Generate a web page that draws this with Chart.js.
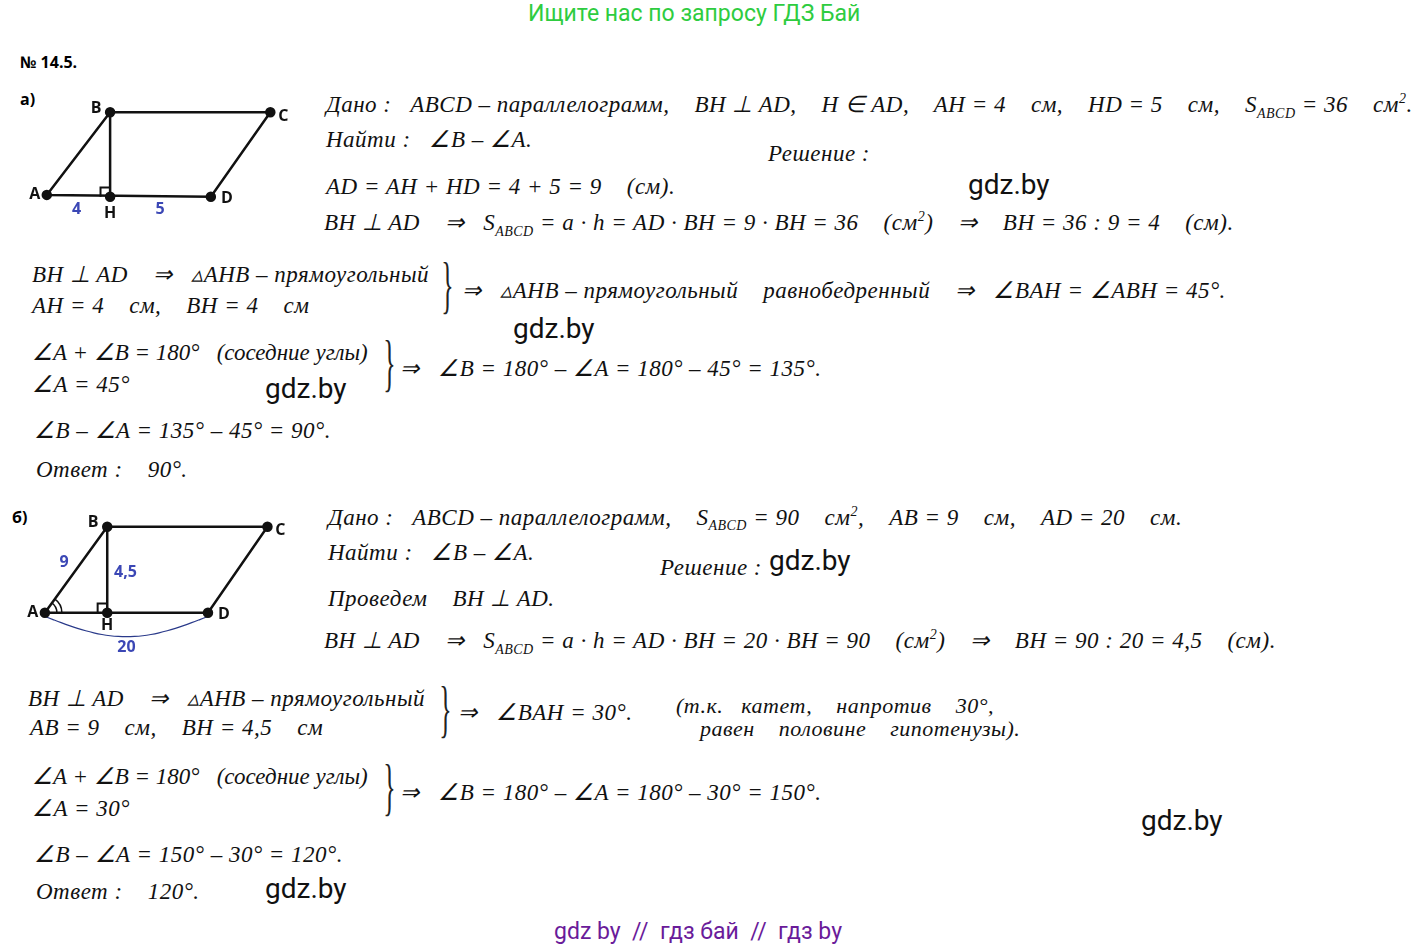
<!DOCTYPE html><html><head><meta charset="utf-8">
<script src="https://cdn.jsdelivr.net/npm/chart.js@4"></script>
<style>
body{margin:0;width:1419px;height:951px;background:#fff;position:relative;overflow:hidden;font-family:"Liberation Serif",serif}
.t{position:absolute;white-space:pre;font-style:italic;font-size:23px;letter-spacing:0.5px;color:#111}
.s{position:absolute;white-space:pre;font-family:Roboto,sans-serif;font-size:28px;color:#111}
.b{position:absolute;font-family:"Open Sans",sans-serif;font-weight:bold;font-size:16px}
sub{font-size:14px}sup{font-size:14px}
.br{position:absolute;font-style:normal;font-size:64px;color:#222;transform:scaleX(0.4);font-weight:100}
canvas{position:absolute}
</style></head><body>
<div class="s" style="left:528px;top:0;color:#2ecc40;font-size:23px">Ищите нас по запросу ГДЗ Бай</div>
<div class="b" style="left:20px;top:51px">№ 14.5.</div>
<div class="b" style="left:20px;top:88px">а)</div>
<div class="b" style="left:12px;top:506px">б)</div>

<div class="t" style="left:326px;top:91px">Дано :   ABCD – параллелограмм,    BH ⊥ AD,    H ∈ AD,    AH = 4    см,    HD = 5    см,    S<sub>ABCD</sub> = 36    см<sup>2</sup>.</div>
<div class="t" style="left:326px;top:126px">Найти :   ∠B – ∠A.</div>
<div class="t" style="left:768px;top:141px">Решение :</div>
<div class="t" style="left:326px;top:174px">AD = AH + HD = 4 + 5 = 9    (см).</div>
<div class="t" style="left:324px;top:209px">BH ⊥ AD    ⇒   S<sub>ABCD</sub> = a · h = AD · BH = 9 · BH = 36    (см<sup>2</sup>)    ⇒    BH = 36 : 9 = 4    (см).</div>
<div class="t" style="left:32px;top:261px">BH ⊥ AD    ⇒   ▵AHB – прямоугольный</div>
<div class="t" style="left:32px;top:293px">AH = 4    см,    BH = 4    см</div>
<div class="t" style="left:462px;top:277px">⇒   ▵AHB – прямоугольный    равнобедренный    ⇒   ∠BAH = ∠ABH = 45°.</div>
<div class="t" style="left:32px;top:339px;letter-spacing:0">∠A + ∠B = 180°   (соседние углы)</div>
<div class="t" style="left:32px;top:371px">∠A = 45°</div>
<div class="t" style="left:400px;top:355px">⇒   ∠B = 180° – ∠A = 180° – 45° = 135°.</div>
<div class="t" style="left:34px;top:417px">∠B – ∠A = 135° – 45° = 90°.</div>
<div class="t" style="left:36px;top:457px">Ответ :    90°.</div>

<div class="t" style="left:328px;top:504px">Дано :   ABCD – параллелограмм,    S<sub>ABCD</sub> = 90    см<sup>2</sup>,    AB = 9    см,    AD = 20    см.</div>
<div class="t" style="left:328px;top:539px">Найти :   ∠B – ∠A.</div>
<div class="t" style="left:660px;top:555px">Решение :</div>
<div class="t" style="left:328px;top:585px">Проведем    BH ⊥ AD.</div>
<div class="t" style="left:324px;top:627px">BH ⊥ AD    ⇒   S<sub>ABCD</sub> = a · h = AD · BH = 20 · BH = 90    (см<sup>2</sup>)    ⇒    BH = 90 : 20 = 4,5    (см).</div>
<div class="t" style="left:28px;top:685px">BH ⊥ AD    ⇒   ▵AHB – прямоугольный</div>
<div class="t" style="left:30px;top:715px">AB = 9    см,    BH = 4,5    см</div>
<div class="t" style="left:458px;top:699px">⇒   ∠BAH = 30°.</div>
<div class="t" style="left:676px;top:694px;font-size:22px;line-height:24px">(т.к.   катет,    напротив    30°,</div>
<div class="t" style="left:700px;top:719px;font-size:22px;line-height:20px">равен    половине    гипотенузы).</div>
<div class="t" style="left:32px;top:763px;letter-spacing:0">∠A + ∠B = 180°   (соседние углы)</div>
<div class="t" style="left:32px;top:795px">∠A = 30°</div>
<div class="t" style="left:400px;top:779px">⇒   ∠B = 180° – ∠A = 180° – 30° = 150°.</div>
<div class="t" style="left:34px;top:841px">∠B – ∠A = 150° – 30° = 120°.</div>
<div class="t" style="left:36px;top:879px">Ответ :    120°.</div>

<div class="br" style="left:432px;top:248px">}</div>
<div class="br" style="left:374px;top:326px">}</div>
<div class="br" style="left:430px;top:672px">}</div>
<div class="br" style="left:374px;top:750px">}</div>

<div class="s" style="left:968px;top:168px">gdz.by</div>
<div class="s" style="left:513px;top:312px">gdz.by</div>
<div class="s" style="left:265px;top:372px">gdz.by</div>
<div class="s" style="left:769px;top:544px">gdz.by</div>
<div class="s" style="left:1141px;top:804px">gdz.by</div>
<div class="s" style="left:265px;top:872px">gdz.by</div>
<div class="s" style="left:554px;top:918px;color:#6a1b9a;font-size:23px">gdz by  //  гдз бай  //  гдз by</div>

<canvas id="ca" style="left:0;top:80px" width="320" height="160"></canvas>
<canvas id="cb" style="left:0;top:500px" width="320" height="170"></canvas>
<script>
// figure a vertices (picture coordinates)
const figALabels=["A","B","C","D"];
const figAx=[42,108,275,213];
const figAy=[198,108,108,200];
const figAH=[108,200];
// figure b vertices
const figBx=[40,105,272,210];
const figBy=[615,522,522,615];
const figBH=[105,615];
const sideLabelsA=[["4",73,214],["5",160,214],["H",108,218]];
const sideLabelsB=[["9",60,561],["4,5",124,571],["H",105,629],["20",125,653]];

function fig(id,lx,ly,H,side,top,h,arc){
  const poly=lx.map((x,i)=>({x,y:ly[i]}));poly.push(poly[0]);
  const ds=[
   {data:poly,showLine:true,borderColor:'#111',borderWidth:2.5,pointRadius:[4,4,4,4,0],pointBackgroundColor:'#111'},
   {data:[{x:H[0],y:H[1]},{x:lx[1],y:ly[1]}],showLine:true,borderColor:'#111',borderWidth:2.5,pointRadius:[4,0],pointBackgroundColor:'#111'},
   {data:[{x:H[0]-10,y:H[1]},{x:H[0]-10,y:H[1]-10},{x:H[0],y:H[1]-10}],showLine:true,borderColor:'#111',borderWidth:2,pointRadius:0}
  ];
  if(arc){
    const pts=[];for(let i=0;i<=20;i++){const t=i/20;pts.push({x:lx[0]+(lx[3]-lx[0])*t,y:ly[0]+4+22*Math.sin(Math.PI*t)});}
    ds.push({data:pts,showLine:true,borderColor:'#2a3a8a',borderWidth:1.2,pointRadius:0,tension:0.4});
  }
  new Chart(document.getElementById(id),{type:'scatter',data:{datasets:ds},
   options:{responsive:false,animation:false,plugins:{legend:{display:false},tooltip:{enabled:false}},
    layout:{padding:0},
    scales:{x:{display:false,min:0,max:320},y:{display:false,min:top,max:top+h,reverse:true}}},
   plugins:[{id:'lbl',afterDatasetsDraw(c){const g=c.ctx,xs=c.scales.x,ys=c.scales.y;
     g.save();g.font='bold 16px "Open Sans",sans-serif';g.textAlign='center';g.textBaseline='middle';g.fillStyle='#111';
     const off=[[-12,0],[-14,-4],[13,4],[16,2]];
     lx.forEach((x,i)=>g.fillText(figALabels[i],xs.getPixelForValue(x)+off[i][0],ys.getPixelForValue(ly[i])+off[i][1]));
     side.forEach(s=>{g.fillStyle=s[0]==='H'?'#111':'#3b47b5';g.fillText(s[0],xs.getPixelForValue(s[1]),ys.getPixelForValue(s[2]));});
     if(arc){g.strokeStyle='#111';g.lineWidth=1.5;const ax=xs.getPixelForValue(lx[0]),ay=ys.getPixelForValue(ly[0]);
       [12,17].forEach(r=>{g.beginPath();g.arc(ax,ay,r,-0.96,0);g.stroke();});}
     g.restore();}}]});
}
fig('ca',figAx,figAy,figAH,sideLabelsA,80,160,false);
fig('cb',figBx,figBy,figBH,sideLabelsB,500,170,true);
</script></body></html>
